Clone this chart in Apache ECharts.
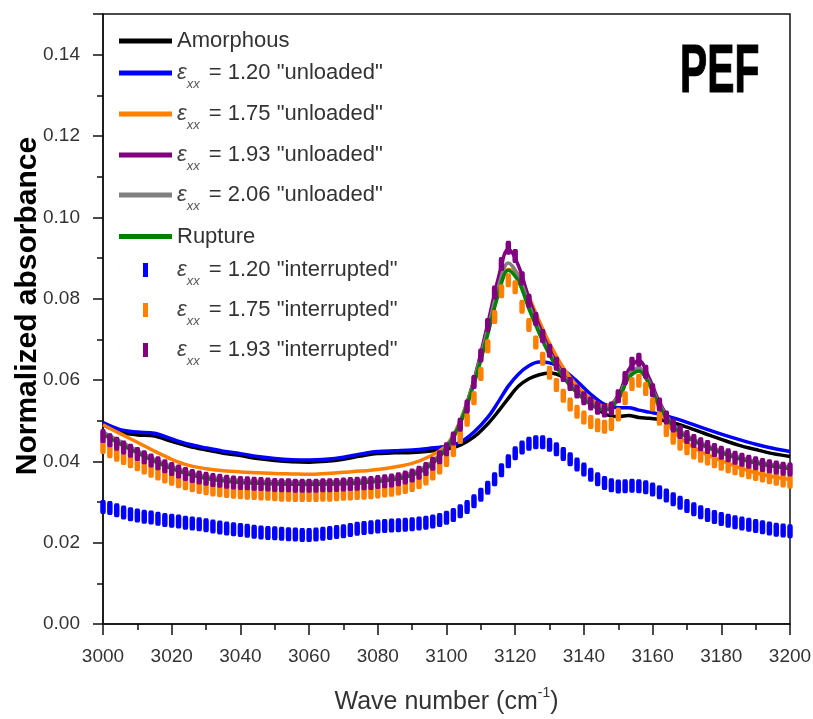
<!DOCTYPE html>
<html>
<head>
<meta charset="utf-8">
<script src="https://cdn.jsdelivr.net/npm/echarts@6/dist/echarts.min.js"></script>
<style>html,body{margin:0;padding:0;background:#fff}#c{width:813px;height:719px}</style>
</head>
<body>
<div id="c"></div>
<script>
// ---- axis settings ----
const xMin = 3000, xMax = 3200, xStep = 20;
const yMin = 0, yMax = 0.15, yStep = 0.02;

// ---- line series (unloaded etc.), sampled at lineX ----
const lineX = [3000,3005,3010,3015,3020,3025,3030,3035,3040,3045,3050,3055,3060,3065,3070,3075,3080,3085,3090,3095,3100,
  3104,3108,3112,3115,3118,3121,3124,3127,3130,3134,3138,3142,3146,3150,3153,3156,3159,3162,3166,3170,3175,3180,3185,3190,3195,3200];

const amorphous = [0.0490,0.0472,0.0465,0.0462,0.0449,0.0437,0.0428,0.0420,0.0414,0.0407,0.0402,0.0399,0.0398,0.0400,0.0405,0.0413,0.0419,0.0421,0.0422,0.0425,0.0430,
  0.0440,0.0460,0.0492,0.0522,0.0555,0.0585,0.0603,0.0613,0.0617,0.0607,0.0580,0.0545,0.0517,0.0510,0.0513,0.0508,0.0506,0.0503,0.0495,0.0484,0.0469,0.0454,0.0440,0.0429,0.0419,0.0412];

const unloaded120 = [0.0495,0.0478,0.0472,0.0469,0.0455,0.0442,0.0433,0.0425,0.0419,0.0412,0.0407,0.0404,0.0403,0.0405,0.0410,0.0418,0.0424,0.0426,0.0428,0.0432,0.0437,
  0.0447,0.0472,0.0508,0.0545,0.0585,0.0615,0.0635,0.0644,0.0642,0.0625,0.0597,0.0565,0.0540,0.0532,0.0532,0.0526,0.0521,0.0516,0.0507,0.0496,0.0481,0.0467,0.0454,0.0442,0.0432,0.0424];

const unloaded175 = [0.0490,0.0468,0.0447,0.0425,0.0405,0.0390,0.0382,0.0377,0.0374,0.0372,0.0370,0.0369,0.0368,0.0370,0.0373,0.0376,0.0380,0.0386,0.0395,0.0412,0.0440,
  0.0500,0.0600,0.0725,0.0815,0.0872,0.0860,0.0805,0.0745,0.0690,0.0630,0.0585,0.0553,0.0535,0.0557,0.0605,0.0625,0.0590,0.0530,0.0475,0.0445,0.0420,0.0402,0.0385,0.0372,0.0362,0.0355];

const unloaded193 = [0.0468,0.0445,0.0423,0.0402,0.0384,0.0370,0.0360,0.0354,0.0350,0.0347,0.0345,0.0344,0.0343,0.0344,0.0345,0.0347,0.0351,0.0356,0.0366,0.0388,0.0433,
  0.0495,0.0600,0.0738,0.0848,0.0922,0.0880,0.0800,0.0733,0.0675,0.0615,0.0575,0.0545,0.0528,0.0562,0.0625,0.0648,0.0605,0.0545,0.0490,0.0462,0.0440,0.0423,0.0408,0.0397,0.0389,0.0382];

const unloaded206 = [0.0472,0.0449,0.0426,0.0405,0.0387,0.0373,0.0363,0.0357,0.0353,0.0351,0.0350,0.0349,0.0349,0.0350,0.0351,0.0353,0.0356,0.0361,0.0372,0.0394,0.0437,
  0.0498,0.0598,0.0725,0.0825,0.0888,0.0855,0.0785,0.0722,0.0668,0.0612,0.0573,0.0545,0.0530,0.0558,0.0612,0.0630,0.0595,0.0540,0.0490,0.0463,0.0442,0.0425,0.0411,0.0400,0.0392,0.0386];

const rupture = [0.0466,0.0443,0.0421,0.0400,0.0382,0.0368,0.0358,0.0352,0.0348,0.0346,0.0345,0.0344,0.0344,0.0345,0.0346,0.0348,0.0351,0.0356,0.0367,0.0389,0.0432,
  0.0493,0.0590,0.0712,0.0808,0.0870,0.0842,0.0775,0.0715,0.0662,0.0607,0.0568,0.0540,0.0525,0.0552,0.0605,0.0622,0.0590,0.0535,0.0486,0.0459,0.0438,0.0421,0.0407,0.0396,0.0388,0.0382];

// ---- interrupted series (markers), one value every 2 cm-1 from 3000 to 3200 ----
const markStart = 3000, markStep = 2;

const interrupted120 = [
0.0288,0.0285,0.0280,0.0274,0.0270,0.0267,0.0264,0.0262,0.0259,0.0256,
0.0254,0.0252,0.0249,0.0247,0.0245,0.0243,0.0240,0.0237,0.0235,0.0233,
0.0231,0.0229,0.0227,0.0225,0.0224,0.0223,0.0222,0.0221,0.0220,0.0219,
0.0219,0.0220,0.0222,0.0224,0.0226,0.0228,0.0231,0.0234,0.0236,0.0238,
0.0240,0.0241,0.0242,0.0243,0.0244,0.0245,0.0247,0.0249,0.0252,0.0256,
0.0261,0.0268,0.0277,0.0288,0.0302,0.0318,0.0335,0.0356,0.0378,0.0400,
0.0420,0.0434,0.0443,0.0447,0.0447,0.0441,0.0430,0.0418,0.0405,0.0392,
0.0380,0.0367,0.0356,0.0347,0.0341,0.0338,0.0339,0.0340,0.0339,0.0336,
0.0331,0.0324,0.0316,0.0307,0.0298,0.0290,0.0282,0.0275,0.0268,0.0263,
0.0258,0.0254,0.0250,0.0247,0.0244,0.0241,0.0238,0.0235,0.0232,0.0230,
0.0228];

const interrupted175 = [
0.0435,0.0425,0.0416,0.0408,0.0400,0.0393,0.0385,0.0377,0.0370,0.0363,
0.0357,0.0351,0.0346,0.0341,0.0337,0.0334,0.0331,0.0329,0.0327,0.0325,
0.0324,0.0323,0.0322,0.0321,0.0320,0.0319,0.0318,0.0318,0.0317,0.0317,
0.0317,0.0317,0.0318,0.0318,0.0319,0.0320,0.0321,0.0322,0.0323,0.0324,
0.0326,0.0328,0.0330,0.0333,0.0337,0.0342,0.0349,0.0358,0.0370,0.0385,
0.0403,0.0428,0.0460,0.0502,0.0555,0.0615,0.0683,0.0755,0.0818,0.0845,
0.0828,0.0780,0.0735,0.0692,0.0652,0.0618,0.0588,0.0561,0.0540,0.0522,
0.0508,0.0497,0.0489,0.0485,0.0492,0.0515,0.0555,0.0590,0.0598,0.0578,
0.0540,0.0505,0.0477,0.0458,0.0443,0.0432,0.0422,0.0414,0.0407,0.0400,
0.0394,0.0388,0.0383,0.0378,0.0373,0.0369,0.0365,0.0361,0.0357,0.0353,
0.0350];

const interrupted193 = [
0.0462,0.0452,0.0443,0.0434,0.0426,0.0418,0.0410,0.0402,0.0395,0.0388,
0.0381,0.0375,0.0369,0.0364,0.0360,0.0357,0.0354,0.0352,0.0350,0.0348,
0.0347,0.0346,0.0345,0.0344,0.0343,0.0342,0.0341,0.0341,0.0340,0.0340,
0.0340,0.0340,0.0341,0.0341,0.0342,0.0343,0.0344,0.0345,0.0346,0.0347,
0.0349,0.0351,0.0353,0.0356,0.0360,0.0365,0.0372,0.0381,0.0394,0.0410,
0.0430,0.0456,0.0490,0.0535,0.0595,0.0660,0.0735,0.0815,0.0885,0.0925,
0.0905,0.0850,0.0795,0.0750,0.0708,0.0672,0.0640,0.0612,0.0590,0.0572,
0.0555,0.0542,0.0532,0.0525,0.0530,0.0560,0.0605,0.0640,0.0650,0.0620,
0.0575,0.0540,0.0508,0.0488,0.0472,0.0460,0.0450,0.0442,0.0435,0.0428,
0.0421,0.0415,0.0409,0.0404,0.0399,0.0395,0.0391,0.0388,0.0385,0.0382,
0.0380];

// ---- names / colours ----
const names = ['Amorphous','ε_xx = 1.20 "unloaded"','ε_xx = 1.75 "unloaded"','ε_xx = 1.93 "unloaded"','ε_xx = 2.06 "unloaded"','Rupture',
  'ε_xx = 1.20 "interrupted"','ε_xx = 1.75 "interrupted"','ε_xx = 1.93 "interrupted"'];
const colors = ['#000000','#0000ff','#ff7f00','#800080','#808080','#008000','#0000ff','#ff7f00','#800080'];
const lineData = [amorphous, unloaded120, unloaded175, unloaded193, unloaded206, rupture];
const markData = [interrupted120, interrupted175, interrupted193];

const FONT = '"Liberation Sans", Arial, sans-serif';

const series = [];
lineData.forEach((arr, i) => {
  series.push({
    name: names[i], type: 'line', symbol: 'none', smooth: 0.35, z: 2,
    data: arr.map((v, k) => [lineX[k], v]),
    lineStyle: { color: colors[i], width: 3.5 },
    itemStyle: { color: colors[i] },
    silent: true
  });
});
markData.forEach((arr, j) => {
  const i = 6 + j;
  series.push({
    name: names[i], type: 'scatter', symbol: 'roundRect', symbolSize: [5.5, 14], z: 3 + j,
    data: arr.map((v, k) => [markStart + k * markStep, v]),
    itemStyle: { color: colors[i], opacity: 1 },
    silent: true
  });
});

const legendCenters = [41, 73, 114, 155, 195, 236.5, 270, 310, 350];
const markerIcon = 'path://M0,0h0.01v14h-0.01z M24,0h5v14h-5z M52.99,0h0.01v14h-0.01z';
const legends = names.map((n, i) => ({
  data: [n], left: 119, top: legendCenters[i] - 18, padding: 0,
  itemWidth: 53, itemHeight: i >= 6 ? 14 : 5,
  icon: i >= 6 ? markerIcon : 'rect',
  selectedMode: false,
  formatter: s => s.replace('ε_xx', '{e|ε}{s|xx}'),
  textStyle: {
    fontFamily: FONT, fontSize: 22, color: '#333', lineHeight: 36,
    rich: {
      e: { fontFamily: FONT, fontSize: 22, fontStyle: 'italic', color: '#444', lineHeight: 36 },
      s: { fontFamily: FONT, fontSize: 13, fontStyle: 'italic', color: '#555', lineHeight: 13, verticalAlign: 'bottom', padding: [0, 3, 0, 0] }
    }
  }
}));

const chart = echarts.init(document.getElementById('c'), null, { renderer: 'canvas' });
chart.setOption({
  animation: false,
  backgroundColor: '#fff',
  grid: { left: 103, right: 23, top: 14, bottom: 95, outerBoundsMode: 'none', containLabel: false,
    show: true, borderColor: '#111', borderWidth: 1.5, backgroundColor: 'transparent' },
  legend: legends,
  xAxis: {
    type: 'value', min: xMin, max: xMax, interval: xStep,
    name: 'Wave number (cm{sup|-1})', nameLocation: 'middle', nameGap: 62, nameMoveOverlap: false,
    nameTextStyle: { fontFamily: FONT, fontSize: 25, color: '#333', lineHeight: 32,
      rich: { sup: { fontFamily: FONT, fontSize: 14, color: '#333', verticalAlign: 'top', lineHeight: 14 } } },
    axisLine: { lineStyle: { color: '#111', width: 1.5 } },
    axisTick: { show: true, inside: false, length: 11, lineStyle: { color: '#111', width: 1.5 } },
    minorTick: { show: true, splitNumber: 2, length: 6, lineStyle: { color: '#111', width: 1.5 } },
    axisLabel: { fontFamily: FONT, fontSize: 19, color: '#333', margin: 23, formatter: v => String(v) },
    splitLine: { show: false }
  },
  yAxis: {
    type: 'value', min: yMin, max: yMax, interval: yStep,
    name: 'Normalized absorbance', nameLocation: 'middle', nameGap: 60, nameMoveOverlap: false,
    nameTextStyle: { fontFamily: FONT, fontSize: 30, fontWeight: 'bold', color: '#000', padding: [0, 0, 0, 26] },
    axisLine: { lineStyle: { color: '#111', width: 1.5 } },
    axisTick: { show: true, inside: false, length: 10, lineStyle: { color: '#111', width: 1.5 } },
    minorTick: { show: true, splitNumber: 2, length: 6, lineStyle: { color: '#111', width: 1.5 } },
    axisLabel: { fontFamily: FONT, fontSize: 19, color: '#333', margin: 23, showMaxLabel: false,
      formatter: v => v.toFixed(2) },
    splitLine: { show: false }
  },
  graphic: [{
    type: 'text', x: 680, y: 73, scaleX: 0.6,
    style: { text: 'PEF', font: 'bold 68px "Liberation Sans", Arial, sans-serif', fill: '#000', stroke: '#000', lineWidth: 1.2,
      verticalAlign: 'middle', align: 'left' },
    z: 100
  }],
  series: series
});
</script>
</body>
</html>
